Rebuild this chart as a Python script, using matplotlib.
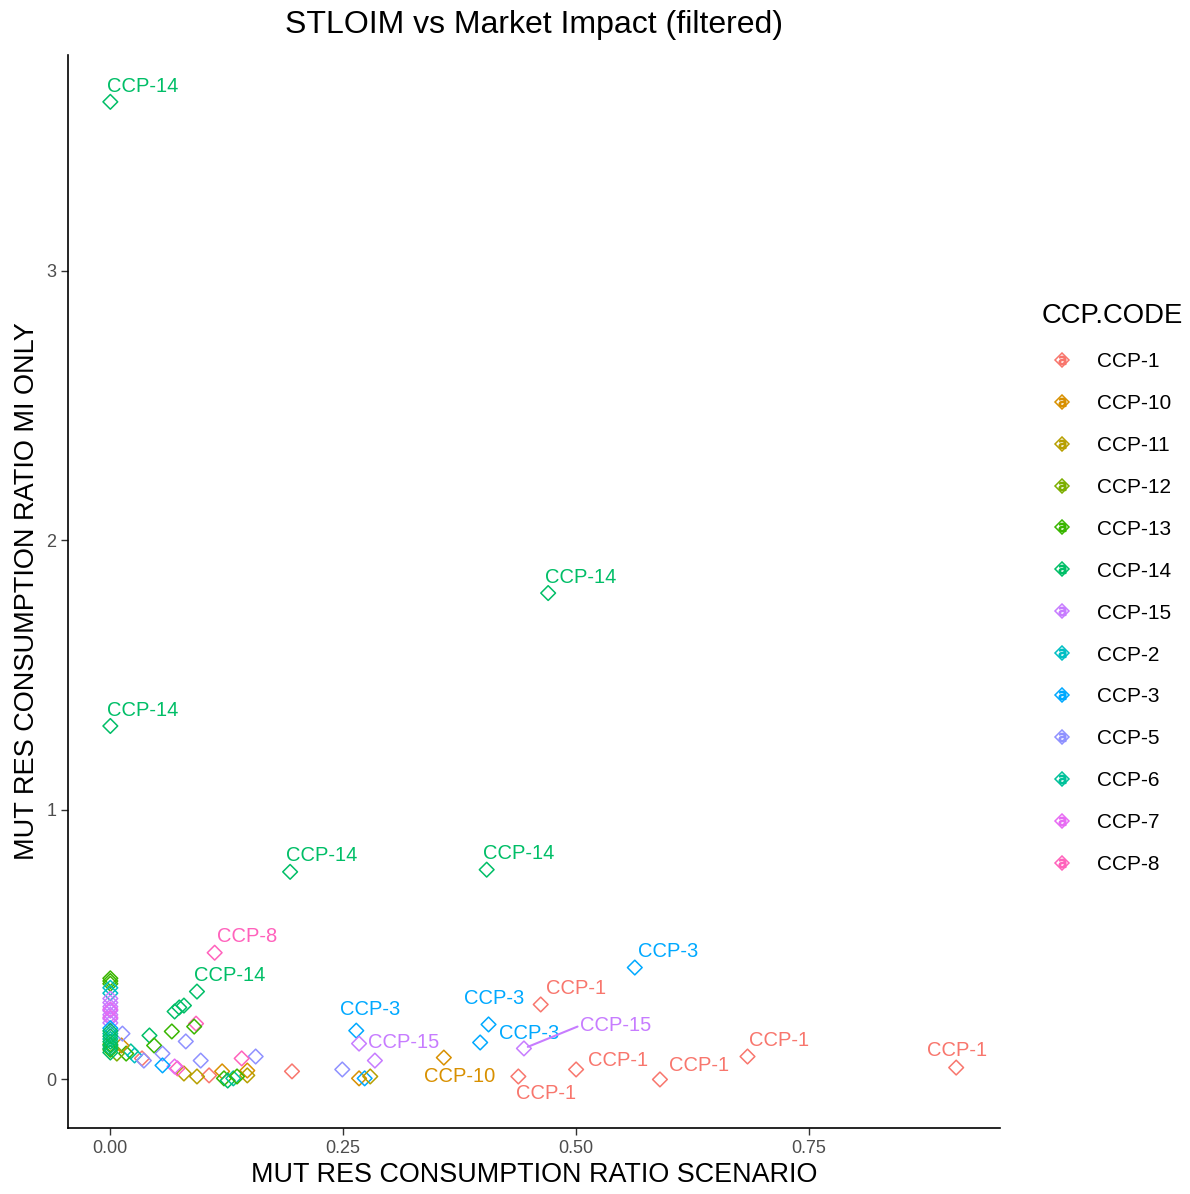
import matplotlib
matplotlib.use("Agg")
import matplotlib.pyplot as plt
from matplotlib.lines import Line2D

plt.rcParams["font.family"] = ["Liberation Sans", "DejaVu Sans"]

codes = ["CCP-1", "CCP-10", "CCP-11", "CCP-12", "CCP-13", "CCP-14", "CCP-15",
         "CCP-2", "CCP-3", "CCP-5", "CCP-6", "CCP-7", "CCP-8"]
colors = ["#F8766D", "#D89000", "#B79F00", "#7CAE00", "#39B600", "#00BE67", "#C77CFF",
          "#00BFC4", "#00A9FF", "#8F91FF", "#00C19A", "#E76BF3", "#FF62BC"]

# labelled points
lab_x = [0.000, 0.470, 0.000, 0.193, 0.404, 0.112, 0.093, 0.563, 0.462, 0.264,
         0.267, 0.406, 0.397, 0.444, 0.358, 0.438, 0.500, 0.590, 0.684, 0.908]
lab_y = [3.626, 1.804, 1.311, 0.770, 0.778, 0.470, 0.326, 0.415, 0.278, 0.181,
         0.133, 0.204, 0.137, 0.115, 0.081, 0.011, 0.037, 0.000, 0.085, 0.044]
lab_code = ["CCP-14", "CCP-14", "CCP-14", "CCP-14", "CCP-14", "CCP-8", "CCP-14", "CCP-3",
            "CCP-1", "CCP-3", "CCP-15", "CCP-3", "CCP-3", "CCP-15", "CCP-10", "CCP-1",
            "CCP-1", "CCP-1", "CCP-1", "CCP-1"]

# unlabelled points
pt_x = [0.284, 0.249, 0.267, 0.273, 0.279, 0.195, 0.156, 0.141, 0.147, 0.147,
        0.120, 0.122, 0.126, 0.132, 0.136, 0.106, 0.093, 0.079, 0.072, 0.069,
        0.097, 0.081, 0.092, 0.090, 0.069, 0.074, 0.079, 0.066, 0.042, 0.047,
        0.056, 0.056, 0.034, 0.026, 0.022, 0.017, 0.012, 0.013, 0.007, 0.036,
        0.0, 0.0, 0.0, 0.0, 0.0, 0.0, 0.0, 0.0, 0.0, 0.0, 0.0, 0.0, 0.0, 0.0,
        0.0, 0.0, 0.0, 0.0, 0.0, 0.0, 0.0, 0.0, 0.0, 0.0, 0.0]
pt_y = [0.070, 0.037, 0.004, 0.004, 0.011, 0.030, 0.085, 0.078, 0.033, 0.015,
        0.030, 0.004, -0.004, 0.004, 0.011, 0.015, 0.011, 0.022, 0.041, 0.048,
        0.070, 0.141, 0.207, 0.196, 0.252, 0.267, 0.274, 0.178, 0.163, 0.126,
        0.096, 0.052, 0.078, 0.089, 0.104, 0.096, 0.126, 0.170, 0.096, 0.070,
        0.375, 0.365, 0.355, 0.130, 0.110, 0.340, 0.320, 0.300, 0.285, 0.270,
        0.255, 0.240, 0.225, 0.210, 0.260, 0.230, 0.190, 0.170, 0.150, 0.180,
        0.160, 0.140, 0.125, 0.115, 0.100]
pt_code = ["CCP-15", "CCP-5", "CCP-10", "CCP-3", "CCP-11", "CCP-1", "CCP-5", "CCP-8",
           "CCP-10", "CCP-11", "CCP-10", "CCP-13", "CCP-14", "CCP-6", "CCP-13", "CCP-1",
           "CCP-11", "CCP-11", "CCP-8", "CCP-7", "CCP-5", "CCP-5", "CCP-8", "CCP-13",
           "CCP-14", "CCP-14", "CCP-14", "CCP-13", "CCP-14", "CCP-13", "CCP-5", "CCP-3",
           "CCP-1", "CCP-2", "CCP-6", "CCP-13", "CCP-10", "CCP-5", "CCP-12", "CCP-5",
           "CCP-13", "CCP-13", "CCP-13", "CCP-13", "CCP-13", "CCP-2", "CCP-2", "CCP-15",
           "CCP-15", "CCP-15", "CCP-15", "CCP-15", "CCP-15", "CCP-15", "CCP-7", "CCP-7",
           "CCP-3", "CCP-6", "CCP-6", "CCP-14", "CCP-14", "CCP-14", "CCP-14", "CCP-14",
           "CCP-14"]

# label offsets in pixels (right, up)
lab_dx = [32, 33, 32, 32, 32, 32, 33, 33, 35, 14, 45, 6, 49, 92, 16, 28, 42, 39, 32, 1]
lab_dy = [15, 16, 15, 16, 16, 16, 16, 16, 16, 21, 1, 26, 9, 23, -19, -17, 9, 14, 16, 17]

cmap = dict(zip(codes, colors))

fig = plt.figure(figsize=(11.9, 11.94), dpi=100)
ax = fig.add_axes([0.0571, 0.0553, 0.7832, 0.8987])

all_x = pt_x + lab_x
all_y = pt_y + lab_y
all_c = pt_code + lab_code
ax.scatter(all_x, all_y, s=56, marker="D", facecolors="none",
           edgecolors=[cmap[c] for c in all_c], linewidths=1.1)

for x, y, c, dx, dy in zip(lab_x, lab_y, lab_code, lab_dx, lab_dy):
    arrow = None
    if abs(dx) > 60:
        arrow = dict(arrowstyle="-", color=cmap[c], lw=1.5, shrinkA=0, shrinkB=3,
                     relpos=(0.0, 0.5))
    ax.annotate(c, (x, y), xytext=(dx, dy), textcoords="offset pixels",
                ha="center", va="center", fontsize=14.5, color=cmap[c],
                arrowprops=arrow)

ax.set_xlim(-0.0455, 0.955)
ax.set_ylim(-0.18, 3.80)
ax.set_xticks([0, 0.25, 0.5, 0.75])
ax.set_xticklabels(["0.00", "0.25", "0.50", "0.75"])
ax.set_yticks([0, 1, 2, 3])
ax.tick_params(labelsize=13, colors="#333333", labelcolor="#4D4D4D", length=5, width=1)
for s in ["top", "right"]:
    ax.spines[s].set_visible(False)
for s in ["left", "bottom"]:
    ax.spines[s].set_linewidth(1.2)

ax.set_xlabel("MUT RES CONSUMPTION RATIO SCENARIO", fontsize=19.4, labelpad=4)
ax.set_ylabel("MUT RES CONSUMPTION RATIO MI ONLY", fontsize=19.5, labelpad=4)
ax.set_title("STLOIM vs Market Impact (filtered)", fontsize=23, pad=16)

handles = []
for c in codes:
    d = Line2D([], [], marker="D", ls="none", ms=7, mfc="none", mec=cmap[c], mew=1.1)
    a = Line2D([], [], marker="$\\mathrm{a}$", ls="none", ms=6, color=cmap[c])
    handles.append((d, a))
leg = fig.legend(handles, codes, loc="center left", bbox_to_anchor=(0.8595, 0.507),
                 frameon=False, fontsize=15, title="CCP.CODE", title_fontsize=19.8,
                 labelspacing=1.1, handlelength=1.98, handletextpad=0.67)
leg._legend_box.align = "left"

fig.savefig("out.png", dpi=100)
